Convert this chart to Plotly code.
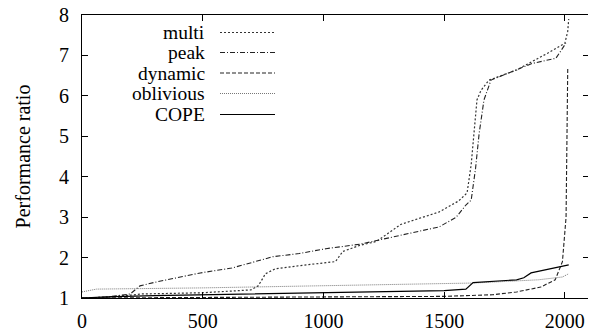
import plotly.graph_objects as go

# ---- data ----
multi_x = [0, 100, 200, 250, 500, 700, 730, 760, 800, 900, 1050, 1080, 1150, 1220, 1280, 1320,
           1480, 1560, 1595, 1612, 1636, 1653, 1686, 1800, 1930, 2000, 2012, 2016]
multi_y = [1.0, 1.02, 1.07, 1.1, 1.13, 1.2, 1.3, 1.6, 1.72, 1.8, 1.9, 2.15, 2.3, 2.4, 2.65, 2.82,
           3.13, 3.4, 3.6, 4.3, 5.9, 6.14, 6.39, 6.64, 7.06, 7.3, 7.6, 7.9]

peak_x = [0, 100, 200, 240, 310, 490, 620, 735, 790, 900, 1010, 1150, 1270, 1480, 1550, 1590,
          1612, 1630, 1645, 1665, 1694, 1740, 1864, 1963, 2004]
peak_y = [1.0, 1.02, 1.1, 1.3, 1.4, 1.62, 1.74, 1.94, 2.02, 2.1, 2.22, 2.33, 2.48, 2.76, 3.0, 3.3,
          3.42, 4.2, 5.07, 5.9, 6.39, 6.5, 6.8, 6.93, 7.3]

dynamic_x = [0, 500, 1000, 1500, 1700, 1800, 1900, 1960, 1990, 2005, 2012]
dynamic_y = [1.0, 1.01, 1.02, 1.04, 1.08, 1.15, 1.27, 1.45, 1.9, 3.0, 6.7]

oblivious_x = [0, 60, 500, 700, 1000, 1500, 1620, 1890, 1990, 2016]
oblivious_y = [1.15, 1.22, 1.25, 1.27, 1.31, 1.36, 1.37, 1.45, 1.52, 1.6]

cope_x = [0, 100, 300, 500, 1000, 1500, 1590, 1620, 1800, 1830, 1860, 2016]
cope_y = [1.0, 1.03, 1.06, 1.08, 1.13, 1.18, 1.22, 1.38, 1.45, 1.5, 1.62, 1.82]

x_ticks = [0, 500, 1000, 1500, 2000]
y_ticks = [1, 2, 3, 4, 5, 6, 7, 8]

names = ["multi", "peak", "dynamic", "oblivious", "COPE"]
series = [(multi_x, multi_y), (peak_x, peak_y), (dynamic_x, dynamic_y),
          (oblivious_x, oblivious_y), (cope_x, cope_y)]
styles = [
    dict(color="#333333", width=1.2, dash="2px,2px"),
    dict(color="#222222", width=1.1, dash="5px,2px,1px,2px"),
    dict(color="#222222", width=1.1, dash="4px,2px"),
    dict(color="#777777", width=1.0, dash="1px,1px"),
    dict(color="#000000", width=1.2, dash="solid"),
]

FONT = "Liberation Serif"

fig = go.Figure()
for name, (xs, ys), st in zip(names, series, styles):
    fig.add_trace(go.Scatter(x=xs, y=ys, mode="lines", name=name, line=st,
                             showlegend=False))

# manual legend (text right-aligned, sample line to the right); positions in screen px
W, H, L, T = 507, 283, 82, 15
rows_py = [32.5, 52.5, 73, 93.5, 114.5]
for name, st, py in zip(names, styles, rows_py):
    yp = 1 - (py - T) / H
    fig.add_annotation(x=(206 - L) / W, y=yp, xref="paper", yref="paper", text=name,
                       showarrow=False, xanchor="right", yanchor="middle", borderpad=0,
                       font=dict(family=FONT, size=19.5, color="black"))
    fig.add_shape(type="line", xref="paper", yref="paper",
                  x0=(220 - L) / W, x1=(275 - L) / W, y0=yp, y1=yp, line=st)

axis_common = dict(showgrid=False, zeroline=False, showline=True, linecolor="black",
                   linewidth=1, mirror="allticks", ticks="inside", ticklen=6,
                   tickcolor="black", automargin=False,
                   tickfont=dict(family=FONT, size=20, color="black"))

fig.update_xaxes(range=[0, 2100], tickvals=x_ticks, ticklabelstandoff=5,
                 ticklabeloverflow="allow", **axis_common)
fig.update_yaxes(range=[1, 8], tickvals=y_ticks, ticklabelstandoff=8,
                 ticklabeloverflow="allow",
                 title=dict(text="Performance ratio", font=dict(family=FONT, size=20, color="black"),
                            standoff=23),
                 **axis_common)

# page body has an 8px margin, so the figure is 8px smaller and margins shifted
fig.update_layout(width=588, height=321, margin=dict(l=74, r=7, t=7, b=31, autoexpand=False),
                  plot_bgcolor="white", paper_bgcolor="white",
                  font=dict(family=FONT))

fig.write_html("out.html")
